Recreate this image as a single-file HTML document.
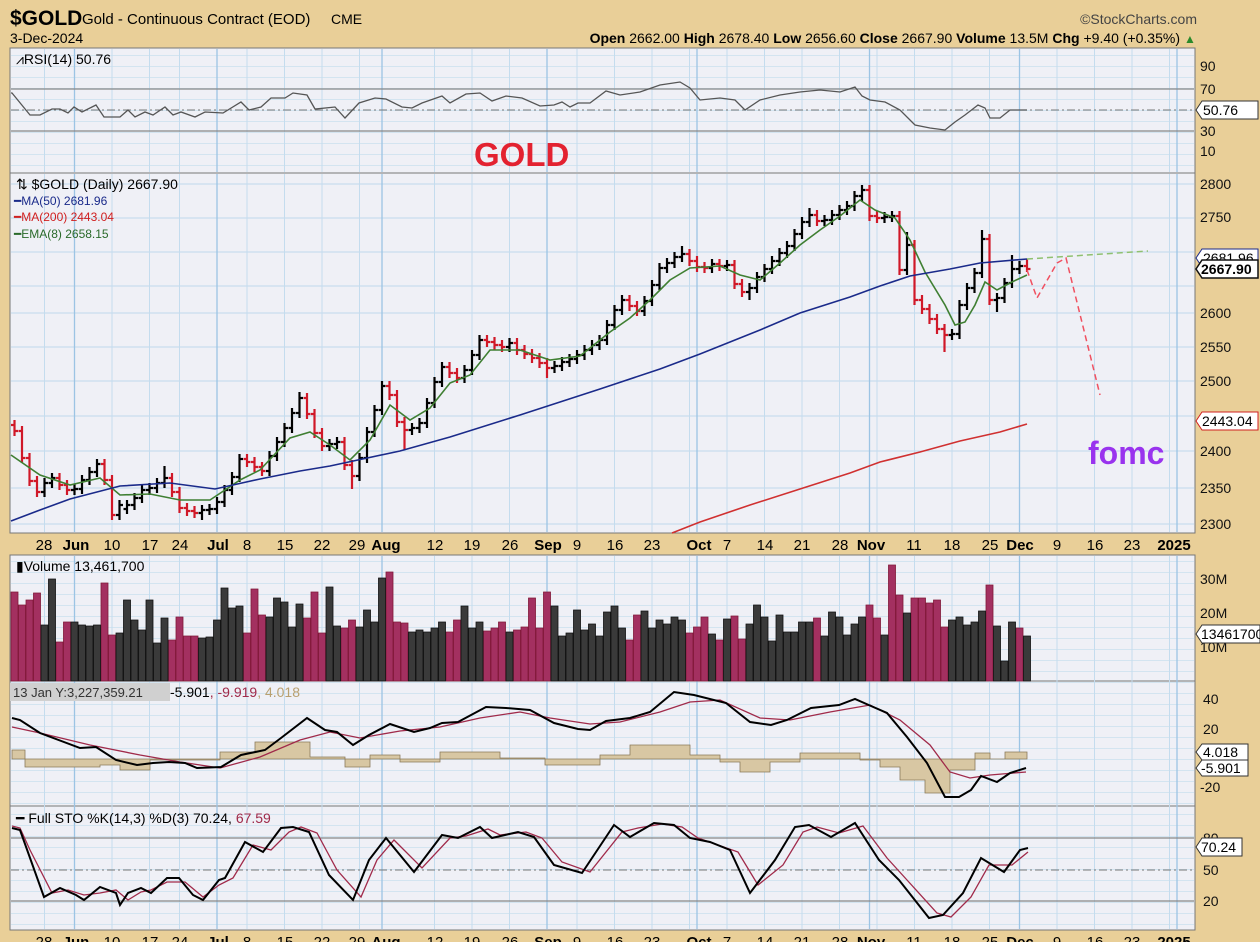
<!DOCTYPE html>
<html><head><meta charset="utf-8"><style>
html,body{margin:0;padding:0;background:#e9cf98;}
svg{display:block;font-family:"Liberation Sans",sans-serif;}
</style></head><body>
<svg width="1260" height="942" viewBox="0 0 1260 942" xmlns="http://www.w3.org/2000/svg">
<defs>
<pattern id="g" x="0" y="0" width="1260" height="11" patternUnits="userSpaceOnUse"><line x1="0" x2="1260" y1="0.5" y2="0.5" stroke="#d3e4f0"/></pattern>
</defs>
<rect x="0" y="0" width="1260" height="942" fill="#e9cf98"/>
<rect x="10" y="48" width="1185" height="125" fill="#eff0f6" stroke="#777"/>
<rect x="10" y="173" width="1185" height="360" fill="#eff0f6" stroke="#777"/>
<rect x="10" y="555" width="1185" height="126" fill="#eff0f6" stroke="#777"/>
<rect x="10" y="681" width="1185" height="125" fill="#eff0f6" stroke="#777"/>
<rect x="10" y="806" width="1185" height="124" fill="#eff0f6" stroke="#777"/>
<g fill="url(#g)">
<rect x="11" y="49" width="1183" height="123"/><rect x="11" y="556" width="1183" height="124"/><rect x="11" y="682" width="1183" height="123"/><rect x="11" y="807" width="1183" height="122"/>
</g>
<g stroke="#bfd8ec">
<line x1="11" x2="1194" y1="184" y2="184"/><line x1="11" x2="1194" y1="218" y2="218"/><line x1="11" x2="1194" y1="252" y2="252"/><line x1="11" x2="1194" y1="286" y2="286"/><line x1="11" x2="1194" y1="313" y2="313"/><line x1="11" x2="1194" y1="347" y2="347"/><line x1="11" x2="1194" y1="381" y2="381"/><line x1="11" x2="1194" y1="416" y2="416"/><line x1="11" x2="1194" y1="451" y2="451"/><line x1="11" x2="1194" y1="488" y2="488"/><line x1="11" x2="1194" y1="524" y2="524"/>
</g>
<g stroke="#c4dcee">
<path d="M44.5 49V172M112 49V172M149.5 49V172M179.5 49V172M247 49V172M284.5 49V172M322 49V172M359.5 49V172M434.5 49V172M472 49V172M509.5 49V172M577 49V172M614.5 49V172M652 49V172M689.5 49V172M727 49V172M764.5 49V172M802 49V172M839.5 49V172M877 49V172M914.5 49V172M952 49V172M989.5 49V172M1057 49V172M1094.5 49V172M1132 49V172M1169.5 49V172"/>
<path d="M44.5 174V532M112 174V532M149.5 174V532M179.5 174V532M247 174V532M284.5 174V532M322 174V532M359.5 174V532M434.5 174V532M472 174V532M509.5 174V532M577 174V532M614.5 174V532M652 174V532M689.5 174V532M727 174V532M764.5 174V532M802 174V532M839.5 174V532M877 174V532M914.5 174V532M952 174V532M989.5 174V532M1057 174V532M1094.5 174V532M1132 174V532M1169.5 174V532"/>
<path d="M44.5 556V929M112 556V929M149.5 556V929M179.5 556V929M247 556V929M284.5 556V929M322 556V929M359.5 556V929M434.5 556V929M472 556V929M509.5 556V929M577 556V929M614.5 556V929M652 556V929M689.5 556V929M727 556V929M764.5 556V929M802 556V929M839.5 556V929M877 556V929M914.5 556V929M952 556V929M989.5 556V929M1057 556V929M1094.5 556V929M1132 556V929M1169.5 556V929"/>
</g>
<g stroke="#9cc4e4" stroke-width="1.3">
<path d="M74.5 49V172M217 49V172M382 49V172M547 49V172M697 49V172M869.5 49V172M1019.5 49V172M1177 49V172"/>
<path d="M74.5 174V532M217 174V532M382 174V532M547 174V532M697 174V532M869.5 174V532M1019.5 174V532M1177 174V532"/>
<path d="M74.5 556V929M217 556V929M382 556V929M547 556V929M697 556V929M869.5 556V929M1019.5 556V929M1177 556V929"/>
</g>
<g stroke="#888" stroke-width="1.2">
<line x1="11" x2="1194" y1="89" y2="89"/><line x1="11" x2="1194" y1="131" y2="131"/><line x1="11" x2="1194" y1="838" y2="838"/><line x1="11" x2="1194" y1="901" y2="901"/>
</g>
<g stroke="#777" stroke-dasharray="8,3,2,3"><line x1="11" x2="1194" y1="110" y2="110"/><line x1="11" x2="1194" y1="870" y2="870"/></g>

<!-- RSI -->
<polyline fill="none" stroke="#555" stroke-width="1.3" points="11,93 12,93 30,115 40,115 52,109 60,109 68,113 74,107 82,112 96,105 104,117 120,117 128,110 135,117 145,112 153,115 165,107 173,115 181,112 195,117 205,112 223,113 241,102 249,110 261,107 271,98 285,98 293,93 307,95 315,109 335,107 345,118 359,103 375,98 386,99 402,107 412,108 422,103 442,96 450,103 466,94 480,93 492,101 506,96 522,98 540,106 554,105 562,102 570,107 578,103 590,103 606,91 620,95 640,92 660,85 680,82 690,88 700,100 720,98 735,100 745,110 760,100 780,95 800,92 820,90 840,92 855,87 862,96 870,100 885,102 900,110 915,125 930,128 945,130 955,122 965,115 978,105 985,108 990,118 1000,118 1010,110 1027,110"/>

<!-- price bars -->
<path fill="none" stroke="#d01828" stroke-width="2.2" d="M14.5 420V436M11 425H14.5M14.5 431H18M22 426V463M18.5 431H22M22 458H25.5M29.5 453V486M26 458H29.5M29.5 481H33M37 476V497M33.5 481H37M37 492H40.5M59.5 473V490M56 478H59.5M59.5 485H63M67 480V495M63.5 485H67M67 490H70.5M104.5 459V485M101 464H104.5M104.5 480H108M112 475V520M108.5 480H112M112 515H115.5M172 473V497M168.5 478H172M172 492H175.5M179.5 487V513M176 492H179.5M179.5 508H183M187 503V516M183.5 508H187M187 511H190.5M194.5 506V518M191 511H194.5M194.5 513H198M247 454V467M243.5 459H247M247 462H250.5M254.5 457V472M251 462H254.5M254.5 467H258M262 462V476M258.5 467H262M262 471H265.5M307 393V419M303.5 398H307M307 414H310.5M314.5 409V438M311 414H314.5M314.5 433H318M322 428V451M318.5 433H322M322 446H325.5M344.5 437V470M341 442H344.5M344.5 465H348M352 460V489M348.5 465H352M352 476H355.5M389.5 381V400M386 386H389.5M389.5 395H393M397 390V427M393.5 395H397M397 422H400.5M404.5 417V450M401 422H404.5M404.5 430H408M449.5 362V378M446 367H449.5M449.5 373H453M457 368V383M453.5 373H457M457 378H460.5M487 335V347M483.5 340H487M487 342H490.5M494.5 337V350M491 342H494.5M494.5 345H498M502 340V352M498.5 345H502M502 347H505.5M517 338V355M513.5 343H517M517 350H520.5M524.5 345V359M521 350H524.5M524.5 354H528M532 349V363M528.5 354H532M532 358H535.5M539.5 353V368M536 358H539.5M539.5 363H543M547 358V378M543.5 363H547M547 368H550.5M629.5 295V311M626 300H629.5M629.5 306H633M637 301V316M633.5 306H637M637 311H640.5M689.5 249V266M686 254H689.5M689.5 261H693M697 256V272M693.5 261H697M697 267H700.5M704.5 262V273M701 267H704.5M704.5 268H708M719.5 259V271M716 264H719.5M719.5 266H723M734.5 260V289M731 265H734.5M734.5 284H738M742 279V297M738.5 284H742M742 292H745.5M817 210V226M813.5 215H817M817 221H820.5M869.5 185V221M866 190H869.5M869.5 216H873M877 211V223M873.5 216H877M877 218H880.5M899.5 211V275M896 216H899.5M899.5 270H903M914.5 240V305M911 245H914.5M914.5 300H918M922 295V314M918.5 300H922M922 309H925.5M929.5 304V324M926 309H929.5M929.5 319H933M937 314V334M933.5 319H937M937 329H940.5M944.5 324V352M941 329H944.5M944.5 335H948M989.5 234V305M986 239H989.5M989.5 300H993M1027 259V272M1023.5 266H1027M1027 269H1030.5"/>
<path fill="none" stroke="#000" stroke-width="2.2" d="M44.5 478V497M41 492H44.5M44.5 483H48M52 473V488M48.5 483H52M52 478H55.5M74.5 484V495M71 490H74.5M74.5 489H78M82 475V494M78.5 489H82M82 480H85.5M89.5 467V485M86 480H89.5M89.5 472H93M97 459V477M93.5 472H97M97 464H100.5M119.5 500V520M116 515H119.5M119.5 505H123M127 500V514M123.5 509H127M127 505H130.5M134.5 493V510M131 505H134.5M134.5 498H138M142 485V503M138.5 498H142M142 490H145.5M149.5 483V495M146 490H149.5M149.5 488H153M157 478V493M153.5 488H157M157 483H160.5M164.5 466V488M161 483H164.5M164.5 478H168M202 505V520M198.5 513H202M202 510H205.5M209.5 504V515M206 510H209.5M209.5 509H213M217 497V514M213.5 509H217M217 502H220.5M224.5 485V507M221 502H224.5M224.5 490H228M232 472V495M228.5 490H232M232 477H235.5M239.5 454V482M236 477H239.5M239.5 459H243M269.5 451V476M266 471H269.5M269.5 456H273M277 437V461M273.5 456H277M277 442H280.5M284.5 423V447M281 442H284.5M284.5 428H288M292 408V433M288.5 428H292M292 413H295.5M299.5 392V418M296 413H299.5M299.5 398H303M329.5 439V451M326 446H329.5M329.5 444H333M337 437V449M333.5 444H337M337 442H340.5M359.5 453V481M356 476H359.5M359.5 458H363M367 427V463M363.5 458H367M367 432H370.5M374.5 405V437M371 432H374.5M374.5 410H378M382 381V415M378.5 410H382M382 386H385.5M412 423V435M408.5 430H412M412 428H415.5M419.5 418V433M416 428H419.5M419.5 423H423M427 398V428M423.5 423H427M427 403H430.5M434.5 377V408M431 403H434.5M434.5 382H438M442 362V387M438.5 382H442M442 367H445.5M464.5 365V383M461 378H464.5M464.5 370H468M472 350V375M468.5 370H472M472 355H475.5M479.5 335V360M476 355H479.5M479.5 340H483M509.5 338V352M506 347H509.5M509.5 343H513M554.5 361V373M551 368H554.5M554.5 366H558M562 357V371M558.5 366H562M562 362H565.5M569.5 354V367M566 362H569.5M569.5 359H573M577 350V364M573.5 359H577M577 355H580.5M584.5 345V360M581 355H584.5M584.5 350H588M592 340V355M588.5 350H592M592 345H595.5M599.5 335V350M596 345H599.5M599.5 340H603M607 320V345M603.5 340H607M607 325H610.5M614.5 305V330M611 325H614.5M614.5 310H618M622 295V315M618.5 310H622M622 300H625.5M644.5 296V316M641 311H644.5M644.5 301H648M652 280V306M648.5 301H652M652 285H655.5M659.5 263V290M656 285H659.5M659.5 268H663M667 258V273M663.5 268H667M667 263H670.5M674.5 252V268M671 263H674.5M674.5 257H678M682 246V262M678.5 257H682M682 254H685.5M712 259V273M708.5 268H712M712 264H715.5M727 260V271M723.5 266H727M727 265H730.5M749.5 283V300M746 292H749.5M749.5 288H753M757 272V293M753.5 288H757M757 277H760.5M764.5 264V282M761 277H764.5M764.5 269H768M772 256V274M768.5 269H772M772 261H775.5M779.5 248V266M776 261H779.5M779.5 253H783M787 241V258M783.5 253H787M787 246H790.5M794.5 229V251M791 246H794.5M794.5 234H798M802 217V239M798.5 234H802M802 222H805.5M809.5 208V227M806 222H809.5M809.5 215H813M824.5 215V226M821 221H824.5M824.5 220H828M832 210V225M828.5 220H832M832 215H835.5M839.5 205V220M836 215H839.5M839.5 210H843M847 201V215M843.5 210H847M847 206H850.5M854.5 191V211M851 206H854.5M854.5 196H858M862 185V201M858.5 196H862M862 190H865.5M884.5 212V223M881 218H884.5M884.5 217H888M892 211V222M888.5 217H892M892 216H895.5M907 232V275M903.5 270H907M907 245H910.5M952 329V340M948.5 335H952M952 334H955.5M959.5 300V339M956 334H959.5M959.5 305H963M967 283V310M963.5 305H967M967 288H970.5M974.5 268V293M971 288H974.5M974.5 273H978M982 230V278M978.5 273H982M982 239H985.5M997 293V312M993.5 300H997M997 298H1000.5M1004.5 278V303M1001 298H1004.5M1004.5 283H1008M1012 255V288M1008.5 283H1012M1012 269H1015.5M1019.5 261V274M1016 269H1019.5M1019.5 266H1023"/>

<!-- MAs -->
<polyline fill="none" stroke="#3f7f32" stroke-width="1.6" points="11,455 40,475 70,485 100,478 120,495 150,494 180,500 210,500 240,480 260,470 290,438 310,432 330,445 350,460 370,440 390,405 410,420 430,408 450,383 470,375 490,350 520,350 550,360 580,356 610,332 630,318 650,300 670,280 690,268 720,266 740,275 760,280 780,263 800,245 820,230 840,216 860,200 875,210 895,218 910,240 925,272 945,305 955,325 965,322 975,305 985,282 997,290 1012,282 1027,275"/>
<polyline fill="none" stroke="#1a2a8a" stroke-width="1.6" points="11,521 40,510 70,499 120,486 170,483 215,489 260,479 300,471 330,466 400,451 450,437 520,415 600,389 660,369 700,354 760,330 800,313 850,297 880,286 910,276 950,269 980,263 1027,259"/>
<polyline fill="none" stroke="#d03030" stroke-width="1.6" points="672,533 700,522 750,505 800,489 850,473 880,462 920,452 960,441 1000,432 1027,424"/>
<polyline fill="none" stroke="#8fc070" stroke-width="1.5" stroke-dasharray="6,4" points="1027,259 1148,251"/>
<polyline fill="none" stroke="#f05060" stroke-width="1.5" stroke-dasharray="6,4" points="1027,270 1037,298 1057,263 1066,258 1100,395"/>

<!-- Volume -->
<path fill="#a33060" stroke="#801838" stroke-width="0.8" d="M11 592h7V681h-7ZM18.5 605h7V681h-7ZM26 600h7V681h-7ZM33.5 593h7V681h-7ZM56 642h7V681h-7ZM63.5 622h7V681h-7ZM101 583h7V681h-7ZM108.5 635h7V681h-7ZM168.5 640h7V681h-7ZM176 617h7V681h-7ZM183.5 636h7V681h-7ZM191 636h7V681h-7ZM243.5 633h7V681h-7ZM251 589h7V681h-7ZM258.5 615h7V681h-7ZM303.5 618h7V681h-7ZM311 592h7V681h-7ZM318.5 633h7V681h-7ZM341 628h7V681h-7ZM348.5 620h7V681h-7ZM386 572h7V681h-7ZM393.5 622h7V681h-7ZM401 623h7V681h-7ZM446 632h7V681h-7ZM453.5 620h7V681h-7ZM483.5 631h7V681h-7ZM491 628h7V681h-7ZM498.5 622h7V681h-7ZM513.5 630h7V681h-7ZM521 627h7V681h-7ZM528.5 598h7V681h-7ZM536 628h7V681h-7ZM543.5 592h7V681h-7ZM626 640h7V681h-7ZM633.5 615h7V681h-7ZM686 633h7V681h-7ZM693.5 627h7V681h-7ZM701 617h7V681h-7ZM716 640h7V681h-7ZM731 616h7V681h-7ZM738.5 639h7V681h-7ZM813.5 618h7V681h-7ZM866 605h7V681h-7ZM873.5 618h7V681h-7ZM888.5 565h7V681h-7ZM896 595h7V681h-7ZM911 598h7V681h-7ZM918.5 598h7V681h-7ZM926 603h7V681h-7ZM933.5 600h7V681h-7ZM941 627h7V681h-7ZM986 585h7V681h-7ZM1016 628h7V681h-7Z"/>
<path fill="#3a3a3a" stroke="#111" stroke-width="0.8" d="M41 625h7V681h-7ZM48.5 579h7V681h-7ZM71 622h7V681h-7ZM78.5 625h7V681h-7ZM86 626h7V681h-7ZM93.5 625h7V681h-7ZM116 633h7V681h-7ZM123.5 600h7V681h-7ZM131 620h7V681h-7ZM138.5 630h7V681h-7ZM146 600h7V681h-7ZM153.5 643h7V681h-7ZM161 618h7V681h-7ZM198.5 638h7V681h-7ZM206 637h7V681h-7ZM213.5 620h7V681h-7ZM221 588h7V681h-7ZM228.5 608h7V681h-7ZM236 606h7V681h-7ZM266 617h7V681h-7ZM273.5 598h7V681h-7ZM281 602h7V681h-7ZM288.5 627h7V681h-7ZM296 604h7V681h-7ZM326 587h7V681h-7ZM333.5 626h7V681h-7ZM356 627h7V681h-7ZM363.5 610h7V681h-7ZM371 622h7V681h-7ZM378.5 578h7V681h-7ZM408.5 632h7V681h-7ZM416 630h7V681h-7ZM423.5 632h7V681h-7ZM431 628h7V681h-7ZM438.5 622h7V681h-7ZM461 606h7V681h-7ZM468.5 628h7V681h-7ZM476 622h7V681h-7ZM506 632h7V681h-7ZM551 606h7V681h-7ZM558.5 636h7V681h-7ZM566 633h7V681h-7ZM573.5 610h7V681h-7ZM581 630h7V681h-7ZM588.5 624h7V681h-7ZM596 636h7V681h-7ZM603.5 612h7V681h-7ZM611 606h7V681h-7ZM618.5 628h7V681h-7ZM641 611h7V681h-7ZM648.5 628h7V681h-7ZM656 620h7V681h-7ZM663.5 624h7V681h-7ZM671 617h7V681h-7ZM678.5 620h7V681h-7ZM708.5 634h7V681h-7ZM723.5 619h7V681h-7ZM746 624h7V681h-7ZM753.5 605h7V681h-7ZM761 617h7V681h-7ZM768.5 641h7V681h-7ZM776 615h7V681h-7ZM783.5 632h7V681h-7ZM791 632h7V681h-7ZM798.5 622h7V681h-7ZM806 622h7V681h-7ZM821 636h7V681h-7ZM828.5 612h7V681h-7ZM836 617h7V681h-7ZM843.5 635h7V681h-7ZM851 624h7V681h-7ZM858.5 617h7V681h-7ZM881 635h7V681h-7ZM903.5 613h7V681h-7ZM948.5 620h7V681h-7ZM956 617h7V681h-7ZM963.5 625h7V681h-7ZM971 622h7V681h-7ZM978.5 611h7V681h-7ZM993.5 626h7V681h-7ZM1001 661h7V681h-7ZM1008.5 622h7V681h-7ZM1023.5 636h7V681h-7Z"/>

<!-- MACD -->
<path fill="#d8c7a3" stroke="#8a7a5a" stroke-width="0.8" d="M12 759V750H25V767H100V765H120V770H150V760H220V752H255V742H310V757H345V767H370V755H400V762H440V752H500V758H545V765H600V755H630V745H690V755H720V762H740V772H770V762H800V753H860V760H880V767H900V780H925V793H950V770H975V753H990V759H1005V752H1027V759Z"/>
<polyline fill="none" stroke="#a02a4a" stroke-width="1.3" points="12,727 40,733 90,745 140,755 180,762 220,768 260,757 300,740 330,732 360,738 400,731 440,727 480,718 520,712 550,718 590,724 620,722 660,712 690,702 720,700 760,718 790,720 830,712 870,705 900,720 930,745 950,772 970,778 990,775 1026,772"/>
<polyline fill="none" stroke="#000" stroke-width="2" points="12,718 20,720 40,733 80,748 96,747 116,760 137,765 153,763 169,762 185,763 197,768 221,767 241,755 265,750 281,738 307,718 325,730 337,732 353,745 369,735 390,724 414,732 430,728 442,723 458,722 486,707 506,708 530,710 554,723 578,729 590,730 606,721 630,718 650,712 674,692 694,695 726,703 750,722 771,725 787,720 811,708 839,705 855,699 871,706 887,713 907,737 927,763 945,797 959,797 971,790 981,776 997,782 1010,773 1026,768"/>

<!-- STO -->
<polyline fill="none" stroke="#a02a4a" stroke-width="1.3" points="12,826 20,828 30,850 52,893 68,890 84,895 100,893 116,890 128,900 141,892 151,890 167,882 185,882 203,897 219,885 233,878 253,845 271,850 289,832 301,827 317,833 337,870 361,897 377,860 394,840 422,868 450,838 466,836 488,829 500,835 526,832 542,838 562,862 590,872 622,832 638,828 662,824 682,827 698,838 718,845 738,852 758,885 783,865 803,832 817,827 839,833 863,826 887,858 907,880 937,913 951,917 971,897 989,865 1012,865 1028,852"/>
<polyline fill="none" stroke="#000" stroke-width="2" points="12,828 20,830 44,897 60,888 76,895 84,900 100,887 116,893 120,905 128,893 141,888 151,893 167,878 179,878 193,895 203,900 219,880 225,878 245,842 263,852 281,828 293,827 309,832 329,875 353,900 369,860 386,838 414,872 442,835 458,838 480,827 492,838 518,832 534,837 554,865 582,873 614,825 630,837 654,823 674,825 690,838 710,842 730,850 750,893 775,860 795,827 809,825 831,837 855,823 879,860 899,880 929,918 943,915 963,893 981,858 1004,872 1020,850 1028,848"/>

<!-- header -->
<text x="10" y="25" font-size="21" font-weight="bold">$GOLD</text>
<text x="82" y="24" font-size="15">Gold - Continuous Contract (EOD)</text>
<text x="331" y="24" font-size="14">CME</text>
<text x="10" y="43" font-size="14">3-Dec-2024</text>
<text x="1197" y="24" font-size="14" text-anchor="end" fill="#444">©StockCharts.com</text>
<text x="1180" y="43" font-size="14" text-anchor="end"><tspan font-weight="bold">Open</tspan> 2662.00 <tspan font-weight="bold">High</tspan> 2678.40 <tspan font-weight="bold">Low</tspan> 2656.60 <tspan font-weight="bold">Close</tspan> 2667.90 <tspan font-weight="bold">Volume</tspan> 13.5M <tspan font-weight="bold">Chg</tspan> +9.40 (+0.35%)</text>
<text x="1184" y="43" font-size="12" fill="#2a8a2a">▲</text>
<text x="16" y="64" font-size="14">⩘RSI(14) 50.76</text>
<text x="474" y="166" font-size="33" font-weight="bold" fill="#e32230">GOLD</text>
<text x="16" y="189" font-size="14">⇅ $GOLD (Daily) 2667.90</text>
<text x="14" y="205" font-size="12" fill="#1a2a8a">━MA(50) 2681.96</text>
<text x="14" y="221" font-size="12" fill="#d02020">━MA(200) 2443.04</text>
<text x="14" y="238" font-size="12" fill="#2a6a2a">━EMA(8) 2658.15</text>
<text x="1088" y="464" font-size="32" font-weight="bold" fill="#9933ee">fomc</text>
<text x="16" y="571" font-size="14">▮Volume 13,461,700</text>
<rect x="10" y="683" width="160" height="18" fill="#d0d0d0"/>
<text x="13" y="697" font-size="13" fill="#333">13 Jan Y:3,227,359.21</text>
<text x="170" y="697" font-size="14">-5.901<tspan fill="#a02a4a">, -9.919</tspan><tspan fill="#b8a070">, 4.018</tspan></text>
<text x="16" y="823" font-size="14">━ Full STO %K(14,3) %D(3) 70.24, <tspan fill="#a02a4a">67.59</tspan></text>
<g font-size="14" fill="#111">
<text x="1200" y="71">90</text><text x="1200" y="94">70</text><text x="1200" y="136">30</text><text x="1200" y="156">10</text>
<text x="1200" y="189">2800</text><text x="1200" y="222">2750</text><text x="1200" y="318">2600</text><text x="1200" y="352">2550</text><text x="1200" y="386">2500</text><text x="1200" y="456">2400</text><text x="1200" y="493">2350</text><text x="1200" y="529">2300</text>
<text x="1200" y="584">30M</text><text x="1200" y="618">20M</text><text x="1200" y="652">10M</text>
<text x="1203" y="704">40</text><text x="1203" y="734">20</text><text x="1200" y="792">-20</text>
<text x="1203" y="843">80</text><text x="1203" y="875">50</text><text x="1203" y="906">20</text>
</g>
<g font-size="14">
<path d="M1196,110 L1202,101 L1258,101 L1258,119 L1202,119 Z" fill="#fff" stroke="#333"/><text x="1203" y="115">50.76</text>
<path d="M1196,258 L1202,249 L1258,249 L1258,267 L1202,267 Z" fill="#fff" stroke="#1a2a8a"/><text x="1203" y="263">2681.96</text>
<path d="M1196,269 L1202,260 L1258,260 L1258,278 L1202,278 Z" fill="#fff" stroke="#111" stroke-width="1.5"/><text x="1201" y="274" font-weight="bold">2667.90</text>
<path d="M1196,421 L1202,412 L1258,412 L1258,430 L1202,430 Z" fill="#fff" stroke="#d02020"/><text x="1202" y="426">2443.04</text>
<path d="M1196,634 L1202,625 L1260,625 L1260,643 L1202,643 Z" fill="#fff" stroke="#333"/><text x="1201" y="639">13461700</text>
<path d="M1196,752 L1202,744 L1248,744 L1248,760 L1202,760 Z" fill="#fff" stroke="#333"/><text x="1203" y="757">4.018</text>
<path d="M1196,768 L1202,760 L1248,760 L1248,776 L1202,776 Z" fill="#fff" stroke="#333"/><text x="1201" y="773">-5.901</text>
<path d="M1196,847 L1202,838 L1242,838 L1242,856 L1202,856 Z" fill="#fff" stroke="#333"/><text x="1201" y="852">70.24</text>
</g>
<g font-size="15" text-anchor="middle">
<text x="44" y="550">28</text><text x="76" y="550" font-weight="bold">Jun</text><text x="112" y="550">10</text><text x="150" y="550">17</text><text x="180" y="550">24</text><text x="218" y="550" font-weight="bold">Jul</text><text x="247" y="550">8</text><text x="285" y="550">15</text><text x="322" y="550">22</text><text x="357" y="550">29</text><text x="386" y="550" font-weight="bold">Aug</text><text x="435" y="550">12</text><text x="472" y="550">19</text><text x="510" y="550">26</text><text x="548" y="550" font-weight="bold">Sep</text><text x="577" y="550">9</text><text x="615" y="550">16</text><text x="652" y="550">23</text><text x="699" y="550" font-weight="bold">Oct</text><text x="727" y="550">7</text><text x="765" y="550">14</text><text x="802" y="550">21</text><text x="840" y="550">28</text><text x="871" y="550" font-weight="bold">Nov</text><text x="914" y="550">11</text><text x="952" y="550">18</text><text x="990" y="550">25</text><text x="1020" y="550" font-weight="bold">Dec</text><text x="1057" y="550">9</text><text x="1095" y="550">16</text><text x="1132" y="550">23</text><text x="1174" y="550" font-weight="bold">2025</text>
</g>
<g font-size="15" text-anchor="middle">
<text x="44" y="947">28</text><text x="76" y="947" font-weight="bold">Jun</text><text x="112" y="947">10</text><text x="150" y="947">17</text><text x="180" y="947">24</text><text x="218" y="947" font-weight="bold">Jul</text><text x="247" y="947">8</text><text x="285" y="947">15</text><text x="322" y="947">22</text><text x="357" y="947">29</text><text x="386" y="947" font-weight="bold">Aug</text><text x="435" y="947">12</text><text x="472" y="947">19</text><text x="510" y="947">26</text><text x="548" y="947" font-weight="bold">Sep</text><text x="577" y="947">9</text><text x="615" y="947">16</text><text x="652" y="947">23</text><text x="699" y="947" font-weight="bold">Oct</text><text x="727" y="947">7</text><text x="765" y="947">14</text><text x="802" y="947">21</text><text x="840" y="947">28</text><text x="871" y="947" font-weight="bold">Nov</text><text x="914" y="947">11</text><text x="952" y="947">18</text><text x="990" y="947">25</text><text x="1020" y="947" font-weight="bold">Dec</text><text x="1057" y="947">9</text><text x="1095" y="947">16</text><text x="1132" y="947">23</text><text x="1174" y="947" font-weight="bold">2025</text>
</g>
</svg>
</body></html>
